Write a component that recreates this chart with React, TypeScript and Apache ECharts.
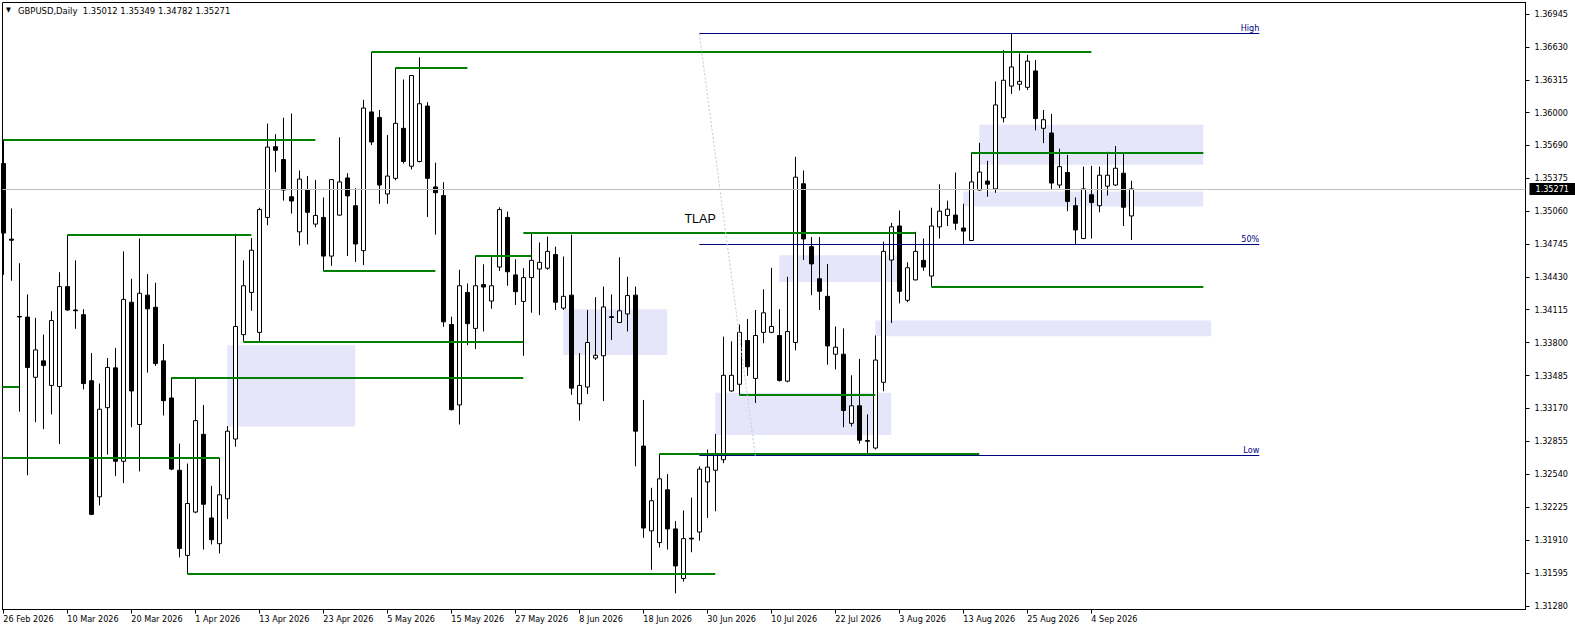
import React, { useEffect, useRef } from 'react';
import * as echarts from 'echarts';

const TITLE_TEXT = 'GBPUSD,Daily  1.35012 1.35349 1.34782 1.35271';

const OPEN = [
  1.35514, 1.34790, 1.34050, 1.34044, 1.33468, 1.33625, 1.33390, 1.33379, 1.34336, 1.34112,
  1.34067, 1.33435, 1.32324, 1.33177, 1.33558, 1.32664, 1.34186, 1.33016, 1.34254, 1.34138,
  1.33625, 1.33270, 1.32578, 1.31763, 1.32178, 1.32922, 1.32122, 1.31875, 1.32305, 1.32877,
  1.33876, 1.34280, 1.33898, 1.34998, 1.35675, 1.35552, 1.35196, 1.34860, 1.35264, 1.34934,
  1.34998, 1.34628, 1.35020, 1.35376, 1.35110, 1.34680, 1.36008, 1.35955, 1.35222, 1.35372,
  1.35851, 1.35488, 1.35533, 1.36064, 1.35290, 1.35207, 1.33973, 1.33203, 1.34280, 1.33936,
  1.34355, 1.34198, 1.34523, 1.34998, 1.34448, 1.34194, 1.34422, 1.34504, 1.34512, 1.34643,
  1.34130, 1.34254, 1.33214, 1.33375, 1.33652, 1.33674, 1.34048, 1.33992, 1.34074, 1.34254,
  1.32810, 1.31998, 1.31886, 1.32391, 1.32017, 1.31542, 1.31928, 1.31987, 1.32466, 1.32578,
  1.32679, 1.33337, 1.33401, 1.33820, 1.33457, 1.33898, 1.33898, 1.33868, 1.33431, 1.33801,
  1.35320, 1.34718, 1.34411, 1.34243, 1.33689, 1.33689, 1.33027, 1.33195, 1.32862, 1.32791,
  1.33420, 1.34590, 1.34916, 1.34205, 1.34400, 1.34587, 1.34437, 1.34908, 1.35017, 1.35020,
  1.34897, 1.34777, 1.35260, 1.35346, 1.35271, 1.35952, 1.36255, 1.36273, 1.36243, 1.36400,
  1.35851, 1.35806, 1.35308, 1.35428, 1.35110, 1.34796, 1.35215, 1.35110, 1.35297, 1.35308,
  1.35421, 1.35012,
];

const HIGH = [
  1.35746, 1.35084, 1.34560, 1.34261, 1.34037, 1.33876, 1.34100, 1.34474, 1.34830, 1.34587,
  1.34119, 1.33700, 1.33408, 1.33652, 1.33749, 1.34673, 1.34411, 1.34796, 1.34456, 1.34373,
  1.33786, 1.33468, 1.32833, 1.32642, 1.33465, 1.33203, 1.32429, 1.32698, 1.33001, 1.34841,
  1.34587, 1.34800, 1.35091, 1.35896, 1.35795, 1.35952, 1.35993, 1.35447, 1.35394, 1.35357,
  1.35189, 1.35365, 1.35765, 1.35421, 1.35278, 1.36124, 1.36580, 1.36026, 1.35787, 1.36430,
  1.36318, 1.36360, 1.36531, 1.36101, 1.35522, 1.35335, 1.34048, 1.34497, 1.34366, 1.34628,
  1.34549, 1.34635, 1.35095, 1.35054, 1.34598, 1.34512, 1.34852, 1.34759, 1.34815, 1.34718,
  1.34624, 1.34833, 1.33700, 1.34112, 1.34235, 1.34336, 1.34261, 1.34617, 1.34430, 1.34336,
  1.33251, 1.32410, 1.32735, 1.32541, 1.32092, 1.32193, 1.32316, 1.32616, 1.32777, 1.32926,
  1.33857, 1.33812, 1.33973, 1.34026, 1.34112, 1.34310, 1.34516, 1.34119, 1.34430, 1.35578,
  1.35447, 1.34811, 1.34811, 1.34553, 1.33954, 1.33936, 1.33487, 1.33644, 1.33113, 1.33868,
  1.34766, 1.34946, 1.35065, 1.34568, 1.34860, 1.34796, 1.35091, 1.35316, 1.35159, 1.35428,
  1.35129, 1.35619, 1.35712, 1.35540, 1.36300, 1.36599, 1.36756, 1.36569, 1.36554, 1.36505,
  1.36026, 1.35989, 1.35656, 1.35596, 1.35189, 1.35484, 1.35492, 1.35484, 1.35626, 1.35682,
  1.35608, 1.35349,
];

const LOW = [
  1.34448, 1.34392, 1.33139, 1.32530, 1.33038, 1.32971, 1.33113, 1.32829, 1.34104, 1.33932,
  1.33352, 1.32148, 1.32242, 1.32728, 1.32522, 1.32455, 1.32990, 1.32567, 1.33513, 1.33577,
  1.33102, 1.32578, 1.31744, 1.31587, 1.32167, 1.31819, 1.31868, 1.31782, 1.32111, 1.32803,
  1.33812, 1.34104, 1.33812, 1.34923, 1.35432, 1.35159, 1.35035, 1.34729, 1.34740, 1.34904,
  1.34486, 1.34534, 1.35015, 1.34628, 1.34572, 1.34542, 1.35690, 1.35129, 1.35129, 1.35353,
  1.35514, 1.35458, 1.35525, 1.35002, 1.34833, 1.33951, 1.33150, 1.33016, 1.33775, 1.33738,
  1.33906, 1.34123, 1.34486, 1.34344, 1.34160, 1.33674, 1.34086, 1.34063, 1.34497, 1.34112,
  1.34112, 1.33300, 1.33053, 1.33307, 1.33633, 1.33240, 1.33824, 1.33988, 1.33906, 1.32616,
  1.31931, 1.31624, 1.31838, 1.31819, 1.31400, 1.31512, 1.31793, 1.31905, 1.32122, 1.32185,
  1.32646, 1.33330, 1.33296, 1.33483, 1.33222, 1.33794, 1.33890, 1.33427, 1.33420, 1.33726,
  1.34590, 1.34254, 1.34112, 1.33588, 1.33543, 1.32990, 1.32997, 1.32833, 1.32728, 1.32777,
  1.33334, 1.33988, 1.34175, 1.34186, 1.34395, 1.34486, 1.34336, 1.34796, 1.34916, 1.34878,
  1.34740, 1.34772, 1.35255, 1.35196, 1.35234, 1.35907, 1.36180, 1.36213, 1.36217, 1.35832,
  1.35709, 1.35260, 1.35278, 1.35058, 1.34740, 1.34790, 1.34796, 1.35047, 1.35207, 1.35300,
  1.34916, 1.34782,
];

const CLOSE = [
  1.34848, 1.34780, 1.34045, 1.33562, 1.33730, 1.33580, 1.34011, 1.34336, 1.34112, 1.34105,
  1.33408, 1.32156, 1.33162, 1.33562, 1.32664, 1.34213, 1.33337, 1.34272, 1.34123, 1.33599,
  1.33244, 1.32589, 1.31830, 1.32260, 1.33053, 1.32253, 1.31913, 1.32343, 1.32952, 1.33954,
  1.34344, 1.34684, 1.35073, 1.35671, 1.35641, 1.35260, 1.35155, 1.35365, 1.35047, 1.35017,
  1.34628, 1.35360, 1.35338, 1.35204, 1.34744, 1.36045, 1.35720, 1.35308, 1.35394, 1.35899,
  1.35533, 1.36356, 1.36086, 1.35372, 1.35234, 1.33999, 1.33158, 1.34344, 1.33981, 1.34344,
  1.34332, 1.34344, 1.35073, 1.34478, 1.34287, 1.34422, 1.34587, 1.34568, 1.34673, 1.34186,
  1.34243, 1.33364, 1.33390, 1.33801, 1.33678, 1.34141, 1.34040, 1.34104, 1.34250, 1.32952,
  1.32025, 1.32286, 1.32496, 1.32017, 1.31662, 1.31924, 1.31920, 1.32589, 1.32608, 1.32739,
  1.33487, 1.33487, 1.33898, 1.33569, 1.33868, 1.34085, 1.33954, 1.33438, 1.33906, 1.35383,
  1.34792, 1.34553, 1.34291, 1.33768, 1.33756, 1.33150, 1.33195, 1.32866, 1.32856, 1.33633,
  1.34673, 1.34908, 1.34291, 1.34516, 1.34673, 1.34523, 1.34916, 1.35058, 1.35077, 1.34942,
  1.34867, 1.35338, 1.35432, 1.35316, 1.36075, 1.36311, 1.36438, 1.36300, 1.36494, 1.35944,
  1.35933, 1.35327, 1.35484, 1.35151, 1.34878, 1.35271, 1.35140, 1.35402, 1.35402, 1.35469,
  1.35095, 1.35271,
];

// date tick labels, one every DATE_TICK_STEP bars starting at bar 0
const DATE_TICK_LABELS = [
  '26 Feb 2026', '10 Mar 2026', '20 Mar 2026', '1 Apr 2026', '13 Apr 2026', '23 Apr 2026',
  '5 May 2026', '15 May 2026', '27 May 2026', '8 Jun 2026', '18 Jun 2026', '30 Jun 2026',
  '10 Jul 2026', '22 Jul 2026', '3 Aug 2026', '13 Aug 2026', '25 Aug 2026', '4 Sep 2026',
];
const DATE_TICK_STEP = 8;

const PRICE_TICKS = [
  1.31280, 1.31595, 1.31910, 1.32225, 1.32540, 1.32855, 1.33170, 1.33485, 1.33800, 1.34115,
  1.34430, 1.34745, 1.35060, 1.35375, 1.35690, 1.36000, 1.36315, 1.36630, 1.36945,
];

const LAST_PRICE = 1.35271;

// horizontal levels: [start bar, end bar, price]
const GREEN_LEVELS: [number, number, number][] = [
  [0, 39, 1.35745],
  [-1, 2, 1.33382],
  [-1, 27, 1.32698],
  [8, 31, 1.34830],
  [21, 65, 1.33468],
  [23, 89, 1.31587],
  [30, 65, 1.33812],
  [40, 54, 1.34486],
  [46, 136, 1.36580],
  [49, 58, 1.36430],
  [59, 66, 1.34628],
  [65, 114, 1.34852],
  [82, 122, 1.32735],
  [92, 109, 1.33296],
  [116, 150, 1.34336],
  [121, 150, 1.35619],
];

// zones: [start bar, end bar, top price, bottom price]
const ZONES: [number, number, number, number][] = [
  [28, 44, 1.33775, 1.32997],
  [70, 83, 1.34119, 1.33681],
  [89, 111, 1.33319, 1.32915],
  [97, 112, 1.34635, 1.34381],
  [109, 151, 1.34011, 1.33861],
  [122, 150, 1.35884, 1.35503],
  [120, 150, 1.35245, 1.35103],
];

// fibonacci object
const FIB_ANCHOR_BARS = [87, 94];
const FIB_END_BAR = 157;
const FIB_LEVEL_NAMES = ['High', '50%', 'Low'];
const FIB_LEVEL_PRICES = [1.36756, 1.34740, 1.32717];

const NOTE_TEXT = 'TLAP';
const NOTE_BAR = 87.1;
const NOTE_PRICE = 1.34983;

const FONT = '"DejaVu Sans Condensed", "DejaVu Sans", sans-serif';

function buildOption() {
  const candles = OPEN.map((o, i) => [i, o, CLOSE[i], LOW[i], HIGH[i]]);
  const xTicks = DATE_TICK_LABELS.map((_, k) => k * DATE_TICK_STEP);
  const gridLeft = 2.5;
  const gridWidth = 1523;
  const barPx = 8;
  const xMin = -0.1;
  const xMax = xMin + gridWidth / barPx;
  const pxPerPrice = 10448;
  const gridTop = 2.5;
  const gridHeight = 607;
  const yMax = 1.36945 + 11.5 / pxPerPrice;
  const yMin = yMax - gridHeight / pxPerPrice;

  const green = GREEN_LEVELS.map(([a, b, p]) => [
    { coord: [Math.max(a, xMin), p], lineStyle: { color: '#008000', width: 2, type: 'solid' } },
    { coord: [b, p] },
  ]);

  const fib = FIB_LEVEL_PRICES.map((p, k) => [
    {
      coord: [FIB_ANCHOR_BARS[0], p],
      lineStyle: { color: '#000080', width: 1, type: 'solid' },
      label: {
        show: true,
        formatter: FIB_LEVEL_NAMES[k],
        position: 'insideEndTop',
        distance: [0, 1],
        color: '#000080',
        fontSize: 9,
        fontFamily: FONT,
      },
    },
    { coord: [FIB_END_BAR, p] },
  ]);

  const diagonal = [
    [
      {
        coord: [FIB_ANCHOR_BARS[0], FIB_LEVEL_PRICES[0]],
        lineStyle: { color: '#c6c6e6', width: 1, type: [2, 2] },
      },
      { coord: [FIB_ANCHOR_BARS[1], FIB_LEVEL_PRICES[2]] },
    ],
  ];

  return {
    animation: false,
    backgroundColor: '#ffffff',
    textStyle: { fontFamily: FONT },
    grid: {
      left: gridLeft,
      top: gridTop,
      width: gridWidth,
      height: gridHeight,
      show: true,
      borderColor: '#000',
      borderWidth: 1,
      backgroundColor: 'transparent',
      containLabel: false,
    },
    xAxis: {
      type: 'value',
      min: xMin,
      max: xMax,
      position: 'bottom',
      axisLine: { show: true, onZero: false, lineStyle: { color: '#000', width: 1 } },
      axisTick: { show: true, length: 4, inside: false, customValues: xTicks, lineStyle: { color: '#000' } },
      axisLabel: {
        customValues: xTicks,
        formatter: (v: number) => DATE_TICK_LABELS[Math.round(v / DATE_TICK_STEP)] ?? '',
        align: 'left',
        margin: 5,
        color: '#000',
        fontSize: 9,
        fontFamily: FONT,
      },
      splitLine: { show: false },
    },
    yAxis: {
      type: 'value',
      position: 'right',
      min: yMin,
      max: yMax,
      axisLine: { show: true, onZero: false, lineStyle: { color: '#000', width: 1 } },
      axisTick: { show: true, length: 4, inside: false, customValues: PRICE_TICKS, lineStyle: { color: '#000' } },
      axisLabel: {
        customValues: PRICE_TICKS,
        formatter: (v: number) => v.toFixed(5),
        margin: 9,
        color: '#000',
        fontSize: 9,
        fontFamily: FONT,
      },
      splitLine: { show: false },
    },
    graphic: [
      {
        type: 'text',
        x: 6,
        y: 10,
        style: { text: '▼', fontSize: 7, fill: '#000', verticalAlign: 'middle', fontFamily: FONT },
      },
      {
        type: 'text',
        x: 18,
        y: 10,
        style: { text: TITLE_TEXT, fontSize: 9.4, fill: '#000', verticalAlign: 'middle', fontFamily: FONT },
      },
    ],
    series: [
      {
        type: 'line',
        data: [],
        z: 1,
        silent: true,
        markArea: {
          silent: true,
          itemStyle: { color: '#e6e6fa' },
          label: { show: false },
          data: ZONES.map(([a, b, t, bt]) => [{ coord: [a, t] }, { coord: [b, bt] }]),
        },
        markLine: {
          silent: true,
          precision: 5,
          symbol: ['none', 'none'],
          data: [{ yAxis: LAST_PRICE }],
          lineStyle: { color: '#c0c0c0', width: 1, type: 'solid' },
          label: {
            show: true,
            position: 'end',
            formatter: LAST_PRICE.toFixed(5),
            backgroundColor: '#000',
            color: '#fff',
            padding: [2, 7, 1, 6],
            distance: 4,
            fontSize: 9,
            fontFamily: FONT,
          },
        },
      },
      {
        type: 'candlestick',
        z: 2,
        barWidth: 4,
        data: candles,
        itemStyle: {
          color: '#ffffff',
          color0: '#000000',
          borderColor: '#000000',
          borderColor0: '#000000',
          borderWidth: 1,
        },
      },
      {
        type: 'line',
        data: [],
        z: 3,
        silent: true,
        markLine: {
          silent: true,
          precision: 5,
          symbol: ['none', 'none'],
          label: { show: false },
          data: [...green, ...fib, ...diagonal],
        },
        markPoint: {
          silent: true,
          symbol: 'rect',
          symbolSize: 1,
          itemStyle: { color: 'rgba(0,0,0,0)' },
          label: {
            show: true,
            position: 'inside',
            formatter: NOTE_TEXT,
            color: '#000',
            fontSize: 12.5,
            fontFamily: '"Liberation Sans", Arial, sans-serif',
          },
          data: [{ coord: [NOTE_BAR, NOTE_PRICE] }],
        },
      },
    ],
  };
}

export default function App() {
  const ref = useRef<HTMLDivElement>(null);
  useEffect(() => {
    if (!ref.current) return;
    const chart = echarts.init(ref.current, null, { renderer: 'svg' });
    chart.setOption(buildOption() as any);
    return () => chart.dispose();
  }, []);
  return (
    <div
      ref={ref}
      style={{ position: 'absolute', left: 0, top: 0, width: 1575, height: 630, background: '#fff' }}
    />
  );
}
